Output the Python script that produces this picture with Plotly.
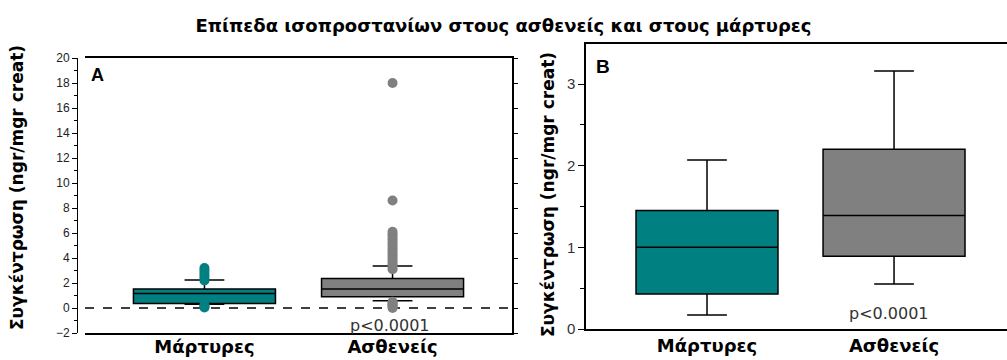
import plotly.graph_objects as go

W, H = 1007, 360

categories = ["Μάρτυρες", "Ασθενείς"]
colors = ["#008080", "#808080"]

# Panel A (all data, with outliers)
a_q1 = [0.37, 0.90]
a_median = [1.17, 1.52]
a_q3 = [1.52, 2.37]
a_lower = [0.30, 0.58]
a_upper = [2.24, 3.36]
a_out_controls = [3.2, 3.0, 2.8, 2.6, 2.4, 2.2, 0.25, 0.15, 0.05]
a_out_patients = [18.0, 8.6, 6.1, 5.9, 5.7, 5.5, 5.3, 5.1, 4.9, 4.7, 4.5, 4.3, 4.1,
                  3.9, 3.7, 3.5, 3.3, 3.1, 0.5, 0.4, 0.3, 0.2, 0.1, 0.0]

# Panel B (boxes only)
b_q1 = [0.43, 0.89]
b_median = [1.00, 1.39]
b_q3 = [1.45, 2.20]
b_lower = [0.17, 0.55]
b_upper = [2.07, 3.16]

p_text = "p<0.0001"
title = "Επίπεδα ισοπροστανίων στους ασθενείς και στους μάρτυρες"
ytitle = "Συγκέντρωση (ngr/mgr creat)"

FONT = "Liberation Sans, Arial, sans-serif"
WIDE = "DejaVu Sans, Verdana, sans-serif"

def px(x):
    return x / W

def py(y):
    return 1 - y / H

fig = go.Figure()

for i, c in enumerate(categories):
    fig.add_trace(go.Box(
        x=[c], q1=[a_q1[i]], median=[a_median[i]], q3=[a_q3[i]],
        lowerfence=[a_lower[i]], upperfence=[a_upper[i]],
        width=0.755, whiskerwidth=0.28, fillcolor=colors[i],
        line=dict(color="black", width=1.5), boxpoints=False,
        xaxis="x", yaxis="y", showlegend=False, hoverinfo="skip"))

for c, vals, col in [(categories[0], a_out_controls, colors[0]),
                     (categories[1], a_out_patients, colors[1])]:
    fig.add_trace(go.Scatter(
        x=[c] * len(vals), y=vals, mode="markers",
        marker=dict(color=col, size=10, line=dict(width=0)),
        xaxis="x", yaxis="y", showlegend=False, hoverinfo="skip"))

for i, c in enumerate(categories):
    fig.add_trace(go.Box(
        x=[c], q1=[b_q1[i]], median=[b_median[i]], q3=[b_q3[i]],
        lowerfence=[b_lower[i]], upperfence=[b_upper[i]],
        width=0.759, whiskerwidth=0.28, fillcolor=colors[i],
        line=dict(color="black", width=1.5), boxpoints=False,
        xaxis="x2", yaxis="y2", showlegend=False, hoverinfo="skip"))

# dummy trace to activate right axis of panel A
fig.add_trace(go.Scatter(x=[categories[0]], y=[None], xaxis="x", yaxis="y3",
                         showlegend=False, hoverinfo="skip"))

xlab = ["<b>" + c + "</b>" for c in categories]

fig.update_layout(
    width=W, height=H,
    margin=dict(l=0, r=0, t=0, b=0, autoexpand=False),
    paper_bgcolor="white", plot_bgcolor="white",
    boxmode="overlay",
    font=dict(family=FONT, color="black"),
    title=dict(text="<b>" + title + "</b>", x=0.5, xanchor="center",
               xref="paper", yref="container",
               y=py(26), yanchor="middle",
               font=dict(size=18, color="black", family=WIDE)),
    xaxis=dict(domain=[px(85), px(512)], type="category", automargin=False,
               categoryorder="array", categoryarray=categories,
               range=[-0.635, 1.635], showline=True, linecolor="black", linewidth=1.5,
               mirror=True, ticks="", tickvals=categories, ticktext=xlab,
               ticklabelstandoff=-3,
               tickfont=dict(size=18, color="black", family=WIDE),
               showgrid=False, zeroline=False, anchor="y"),
    yaxis=dict(domain=[py(333), py(58)], range=[-2, 20], anchor="free", automargin=False,
               position=px(77), showline=True, linecolor="black", linewidth=1,
               ticks="outside", ticklen=5, tickcolor="black", dtick=2, tick0=0,
               minor=dict(dtick=1, ticks="outside", ticklen=3, tickcolor="black"),
               tickfont=dict(size=12, color="#222"), showgrid=False, zeroline=False),
    yaxis3=dict(overlaying="y", side="right", anchor="x", range=[-2, 20], automargin=False,
                showline=True, linecolor="black", linewidth=1.5,
                ticks="outside", ticklen=4, tickcolor="black", dtick=2, tick0=0,
                showticklabels=False, showgrid=False, zeroline=False),
    xaxis2=dict(domain=[px(586), 1.0], type="category", automargin=False,
                categoryorder="array", categoryarray=categories,
                range=[-0.647, 1.604], showline=True, linecolor="black", linewidth=1.5,
                mirror=True, ticks="", tickvals=categories, ticktext=xlab,
                tickfont=dict(size=18, color="black", family=WIDE),
                showgrid=False, zeroline=False, anchor="y2"),
    yaxis2=dict(domain=[py(329), py(44)], range=[0, 3.49], anchor="x2", automargin=False,
                showline=True, linecolor="black", linewidth=1.5,
                ticks="outside", ticklen=6, tickcolor="black", dtick=1, tick0=0,
                minor=dict(dtick=0.5, ticks="outside", ticklen=4, tickcolor="black"),
                tickfont=dict(size=15, color="#333"), showgrid=False, zeroline=False),
    shapes=[dict(type="line", xref="x domain", yref="y", x0=0, x1=1, y0=0, y1=0,
                 line=dict(color="black", width=1.3, dash="dash"), layer="below")],
    annotations=[
        dict(text="<b>" + ytitle + "</b>", xref="paper", yref="paper",
             x=px(17), y=py(188), textangle=-90, showarrow=False,
             font=dict(size=17, color="black", family=WIDE),
             xanchor="center", yanchor="middle"),
        dict(text="<b>" + ytitle + "</b>", xref="paper", yref="paper",
             x=px(548), y=py(195), textangle=-90, showarrow=False,
             font=dict(size=17, color="black", family=WIDE),
             xanchor="center", yanchor="middle"),
        dict(text="<b>A</b>", xref="paper", yref="paper", x=px(97), y=py(75),
             showarrow=False, font=dict(size=18, color="black"),
             xanchor="center", yanchor="middle"),
        dict(text="<b>B</b>", xref="paper", yref="paper", x=px(603), y=py(66),
             showarrow=False, font=dict(size=19, color="black"),
             xanchor="center", yanchor="middle"),
        dict(text=p_text, xref="paper", yref="paper", x=px(390), y=py(325),
             showarrow=False, font=dict(size=16, color="#333", family=WIDE),
             xanchor="center", yanchor="middle"),
        dict(text=p_text, xref="paper", yref="paper", x=px(889), y=py(313),
             showarrow=False, font=dict(size=16, color="#333", family=WIDE),
             xanchor="center", yanchor="middle"),
    ],
)

fig.write_html("out.html", config={"displayModeBar": False},
               post_script="document.body.style.margin='0';document.body.style.overflow='hidden';")
